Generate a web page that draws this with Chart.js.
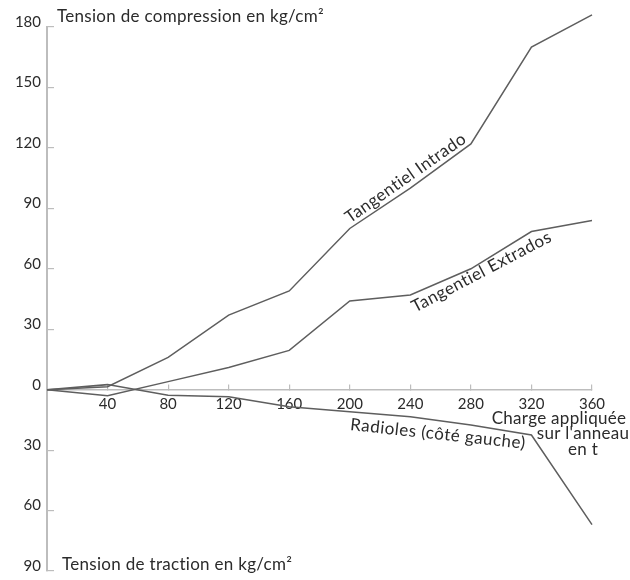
<!DOCTYPE html>
<html>
<head>
<meta charset="utf-8">
<script src="https://cdn.jsdelivr.net/npm/chart.js@4.4.0/dist/chart.umd.min.js"></script>
<style>
  html, body { margin: 0; padding: 0; background: #fff; }
</style>
</head>
<body>
<canvas id="chart" width="630" height="580"></canvas>
<script>
// Charge appliquée sur l'anneau (t)
const charges = [0, 40, 80, 120, 160, 200, 240, 280, 320, 360];
// Tensions en kg/cm2 : compression > 0, traction < 0
const intrados = [0, 1.5, 16, 37, 49, 80, 100, 122, 170, 186];
const extrados = [0, -3, 4, 11, 19.5, 44, 47, 60, 78.5, 84];
const radiales = [0, 2.5, -2.8, -3.5, -8.5, -11, -13.5, -17.5, -22.5, -67];

const yMin = -90, yMax = 180, yStep = 30;
const xMin = 0, xMax = 360, xStep = 40;

const topTitle = "Tension de compression en kg/cm²";
const bottomTitle = "Tension de traction en kg/cm²";
const xTitle = ["Charge appliquée", "sur l'anneau", "en t"];

const FONT = "Lato, 'Noto Sans', sans-serif";
const ink = "#2b2b2b";
const lineColor = "#5e5e5e";
const axisColor = "#bdbdbd";

function points(values) {
  return charges.map((c, i) => ({ x: c, y: values[i] }));
}

// write a label rotated along a segment of a series
function alongLine(chart, text, values, i, j, shift, normal, baseline) {
  const ctx = chart.ctx;
  const sx = chart.scales.x, sy = chart.scales.y;
  const x0 = sx.getPixelForValue(charges[i]), y0 = sy.getPixelForValue(values[i]);
  const x1 = sx.getPixelForValue(charges[j]), y1 = sy.getPixelForValue(values[j]);
  ctx.save();
  ctx.translate(x0, y0);
  ctx.rotate(Math.atan2(y1 - y0, x1 - x0));
  ctx.textAlign = "left";
  ctx.textBaseline = baseline;
  ctx.fillText(text, shift, normal);
  ctx.restore();
}

const labelPlugin = {
  id: "labels",
  afterDraw(chart) {
    const ctx = chart.ctx;
    const sx = chart.scales.x, sy = chart.scales.y;
    ctx.save();
    ctx.fillStyle = ink;
    ctx.font = "17px " + FONT;
    ctx.letterSpacing = "0.3px";

    ctx.textAlign = "left";
    ctx.textBaseline = "middle";
    ctx.fillText(topTitle, sx.left + 10, sy.getPixelForValue(yMax) - 10);
    ctx.fillText(bottomTitle, sx.left + 15, sy.getPixelForValue(yMin) - 6);

    const px = sx.getPixelForValue(xMax), py = sy.getPixelForValue(0);
    ctx.textAlign = "center";
    ctx.fillText(xTitle[0], px - 33, py + 29);
    ctx.fillText(xTitle[1], px - 9, py + 44);
    ctx.fillText(xTitle[2], px - 9, py + 60);

    ctx.letterSpacing = "0.5px";
    alongLine(chart, "Tangentiel Intrado", intrados, 5, 7, 3, -4, "alphabetic");
    alongLine(chart, "Tangentiel Extrados", extrados, 6, 8, -4, 4, "top");
    alongLine(chart, "Radioles (côté gauche)", radiales, 5, 7, 2, 4, "top");
    ctx.restore();
  }
};

function lineSet(label, values) {
  return {
    label: label,
    data: points(values),
    borderColor: lineColor,
    borderWidth: 1.5,
    pointRadius: 0,
    tension: 0,
    fill: false,
    clip: false
  };
}

new Chart(document.getElementById("chart"), {
  type: "line",
  data: {
    datasets: [
      lineSet("Tangentiel Intrado", intrados),
      lineSet("Tangentiel Extrados", extrados),
      lineSet("Radioles (côté gauche)", radiales)
    ]
  },
  options: {
    responsive: false,
    animation: false,
    layout: { padding: { top: 27, right: 38, bottom: 9, left: 0 } },
    plugins: { legend: { display: false }, tooltip: { enabled: false } },
    scales: {
      x: {
        type: "linear",
        position: { y: 0 },
        min: xMin, max: xMax,
        afterFit: s => { s.paddingLeft = 0; s.paddingRight = 0; },
        ticks: {
          stepSize: xStep,
          color: ink,
          font: { family: FONT, size: 15 },
          padding: 11,
          maxRotation: 0,
          callback: v => (v === 0 ? "" : v)
        },
        grid: { drawOnChartArea: false, tickLength: -6, color: axisColor, lineWidth: 1.2 },
        border: { color: axisColor, width: 1.5 }
      },
      y: {
        position: "left",
        min: yMin, max: yMax,
        afterFit: s => { s.width = 47; s.paddingTop = 0; s.paddingBottom = 0; },
        ticks: {
          stepSize: yStep,
          color: ink,
          font: { family: FONT, size: 15 },
          padding: 13,
          labelOffset: -5,
          callback: v => Math.abs(v)
        },
        grid: { drawOnChartArea: false, tickLength: -7, color: axisColor, lineWidth: 1.2 },
        border: { color: axisColor, width: 2 }
      }
    }
  },
  plugins: [labelPlugin]
});
</script>
</body>
</html>
